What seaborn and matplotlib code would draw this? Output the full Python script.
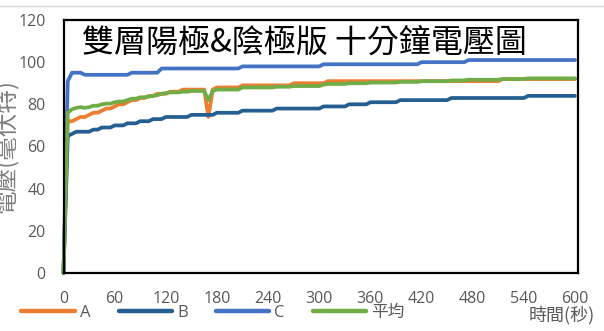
import numpy as np
import pandas as pd
import matplotlib
matplotlib.use("Agg")
import matplotlib.pyplot as plt
from matplotlib.lines import Line2D
import seaborn as sns

# Sampling times (seconds), one reading every 5 s over ten minutes
seconds = list(range(0, 601, 5))

# Voltage readings (mV); first value is t=0, then one row per minute
series_a = [0,
    72, 72, 73, 74, 74, 75, 76, 76, 77, 78, 78, 79,
    80, 80, 81, 82, 82, 83, 83, 84, 84, 85, 85, 85,
    86, 86, 86, 87, 87, 87, 87, 87, 87, 74, 87, 88,
    88, 88, 88, 88, 88, 89, 89, 89, 89, 89, 89, 89,
    89, 89, 89, 89, 89, 90, 90, 90, 90, 90, 90, 90,
    90, 91, 91, 91, 91, 91, 91, 91, 91, 91, 91, 91,
    91, 91, 91, 91, 91, 91, 91, 91, 91, 91, 91, 91,
    91, 91, 91, 91, 91, 91, 91, 91, 91, 91, 91, 91,
    91, 91, 91, 91, 91, 91, 92, 92, 92, 92, 92, 92,
    92, 92, 92, 92, 92, 92, 92, 92, 92, 92, 92, 92]

series_b = [0,
    65, 66, 67, 67, 67, 67, 68, 68, 69, 69, 69, 70,
    70, 70, 71, 71, 71, 72, 72, 72, 73, 73, 73, 74,
    74, 74, 74, 74, 74, 75, 75, 75, 75, 75, 75, 76,
    76, 76, 76, 76, 76, 77, 77, 77, 77, 77, 77, 77,
    77, 78, 78, 78, 78, 78, 78, 78, 78, 78, 78, 78,
    79, 79, 79, 79, 79, 79, 80, 80, 80, 80, 80, 81,
    81, 81, 81, 81, 81, 81, 82, 82, 82, 82, 82, 82,
    82, 82, 82, 82, 82, 82, 83, 83, 83, 83, 83, 83,
    83, 83, 83, 83, 83, 83, 83, 83, 83, 83, 83, 83,
    84, 84, 84, 84, 84, 84, 84, 84, 84, 84, 84, 84]

series_c = [0,
    91, 95, 95, 95, 94, 94, 94, 94, 94, 94, 94, 94,
    94, 94, 94, 95, 95, 95, 95, 95, 95, 95, 97, 97,
    97, 97, 97, 97, 97, 97, 97, 97, 97, 97, 97, 97,
    97, 97, 97, 97, 97, 98, 98, 98, 98, 98, 98, 98,
    98, 98, 98, 98, 98, 98, 98, 98, 98, 98, 98, 98,
    99, 99, 99, 99, 99, 99, 99, 99, 99, 99, 99, 99,
    99, 99, 99, 99, 99, 99, 99, 99, 99, 99, 99, 100,
    100, 100, 100, 100, 100, 100, 100, 100, 100, 100, 101, 101,
    101, 101, 101, 101, 101, 101, 101, 101, 101, 101, 101, 101,
    101, 101, 101, 101, 101, 101, 101, 101, 101, 101, 101, 101]

series_names = ["A", "B", "C", "平均"]
line_colors = ["#ED7D31", "#255E91", "#4472C4", "#70AD47"]
x_ticks = list(range(0, 601, 60))
y_ticks = list(range(0, 121, 20))

title_text = "雙層陽極&陰極版 十分鐘電壓圖"
x_label = "時間(秒)"
y_label = "電壓(毫伏特)"

# The average line is the mean of the three plates
series_avg = np.mean([series_a, series_b, series_c], axis=0)

wide = pd.DataFrame({
    "time": seconds,
    "A": series_a,
    "B": series_b,
    "C": series_c,
    "平均": series_avg,
})
long = wide.melt(id_vars="time", var_name="series", value_name="voltage")

sns.set_theme(style="white")
plt.rcParams["font.family"] = ["Open Sans", "Noto Sans CJK TC", "DejaVu Sans"]

gray = "#595959"
W, H = 604, 331
fig = plt.figure(figsize=(W / 100, H / 100), dpi=100)
fig.patch.set_facecolor("white")
ax = fig.add_axes([63.5 / W, (H - 273) / H, (578 - 63.5) / W, (273 - 20) / H])

sns.lineplot(data=long, x="time", y="voltage", hue="series",
             hue_order=series_names, palette=line_colors,
             estimator=None, linewidth=2.7, ax=ax, legend=False)
for ln in ax.lines:
    ln.set_solid_joinstyle("round")
    ln.set_clip_on(False)

ax.set_xlim(0, 603.5)
ax.set_ylim(0, 120)
ax.set_xticks(x_ticks)
ax.set_yticks(y_ticks)
ax.set_xlabel("")
ax.set_ylabel("")
ax.tick_params(length=0, pad=13, labelsize=11.5, labelcolor=gray)
for side in ["left", "bottom", "top", "right"]:
    ax.spines[side].set_visible(True)
    ax.spines[side].set_color("black")
    ax.spines[side].set_linewidth(1.6)
ax.grid(False)

fig.text(82 / W, 1 - 42.5 / H, title_text, ha="left", va="center",
         fontsize=23, color="black",
         family=["Noto Sans CJK TC", "DejaVu Sans"], fontweight="light")

handles = [Line2D([0], [0], color=c, lw=3.2, solid_capstyle="round")
           for c in line_colors]
fig.legend(handles, series_names, loc="center",
           bbox_to_anchor=(213 / W, 1 - 313 / H), ncol=4, frameon=False,
           handlelength=3.2, handletextpad=0.3, columnspacing=1.7,
           fontsize=12, labelcolor=gray, borderpad=0)

fig.text(595 / W, 1 - 315 / H, x_label, ha="right", va="center",
         fontsize=13, color=gray, family=["Noto Sans CJK TC", "DejaVu Sans"])
fig.text(5 / W, 1 - 146.5 / H, y_label, ha="center", va="center",
         rotation=90, fontsize=17, color="#7f7f7f",
         family=["Noto Sans CJK TC", "DejaVu Sans"])

fig.add_artist(Line2D([0, 1], [1 - 6 / H, 1 - 6 / H],
                      transform=fig.transFigure, color="#d9d9d9", lw=1))

fig.savefig("out.png", dpi=100, facecolor="white")
